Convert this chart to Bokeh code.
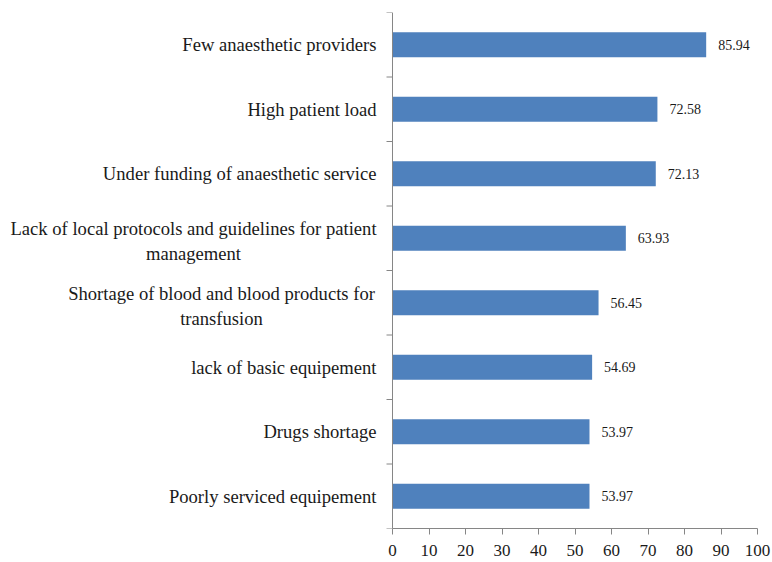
import math
from bokeh.plotting import figure
from bokeh.models import ColumnDataSource, Range1d, FixedTicker, LabelSet, Span
from bokeh.embed import file_html
from bokeh.resources import INLINE

categories = [
    "Few anaesthetic providers",
    "High patient load",
    "Under funding of anaesthetic service",
    "Lack of local protocols and guidelines for patient\nmanagement",
    "Shortage of blood and blood products for\ntransfusion",
    "lack of basic equipement",
    "Drugs shortage",
    "Poorly serviced equipement",
]
values = [85.94, 72.58, 72.13, 63.93, 56.45, 54.69, 53.97, 53.97]
x_ticks = [0, 10, 20, 30, 40, 50, 60, 70, 80, 90, 100]

FONT = "Liberation Serif"
TEXT = "#1a1a1a"
AXIS = "#868686"
BAR = "#4F81BD"

n = len(categories)
ys = [n - i - 0.5 for i in range(n)]

src = ColumnDataSource(dict(
    y=ys, value=values, vlabel=["%.2f" % v for v in values], zero=[0] * n,
))

# frame spans the whole width so the category texts (left of x=0) are visible
p = figure(width=772, height=562, x_range=Range1d(-107.4, 100), y_range=Range1d(0, n),
           output_backend="svg", toolbar_location=None,
           min_border_left=0, min_border_right=15, min_border_top=12, min_border_bottom=34)
p.outline_line_color = None
p.xgrid.visible = False
p.ygrid.visible = False
p.yaxis.visible = False

p.hbar(y="y", left="zero", right="value", height=0.39, fill_color=BAR, line_color=None, source=src)

# x axis
xa = p.xaxis[0]
xa.ticker = FixedTicker(ticks=x_ticks)
xa.bounds = (0, 100)
xa.axis_line_color = AXIS
xa.major_tick_line_color = AXIS
xa.major_tick_out = 6
xa.major_tick_in = 0
xa.minor_tick_line_color = None
xa.major_label_text_font = FONT
xa.major_label_text_font_size = "17px"
xa.major_label_text_color = TEXT
xa.major_label_standoff = 10

# y axis line at x = 0 with ticks at category boundaries
p.add_layout(Span(location=0, dimension="height", line_color=AXIS, line_width=1))
p.ray(x=[0] * (n + 1), y=list(range(n + 1)), length=6, length_units="screen",
      angle=math.pi, line_color=AXIS, line_width=1)

# value labels
p.add_layout(LabelSet(x="value", y="y", text="vlabel", source=src, x_offset=12,
                      text_baseline="middle", text_align="left",
                      text_font=FONT, text_font_size="14px", text_color=TEXT))

# category labels
single = [i for i, c in enumerate(categories) if "\n" not in c]
multi = [i for i, c in enumerate(categories) if "\n" in c]
s1 = ColumnDataSource(dict(y=[ys[i] for i in single], t=[categories[i] for i in single],
                           zero=[0] * len(single)))
p.text(x="zero", y="y", text="t", source=s1, x_offset=-16,
       text_baseline="middle", text_align="right",
       text_font=FONT, text_font_size="18.6px", text_color=TEXT)
multi_center_offsets = [-199, -171]
for i, off in zip(multi, multi_center_offsets):
    s2 = ColumnDataSource(dict(y=[ys[i]], t=[categories[i]], zero=[0]))
    p.text(x="zero", y="y", text="t", source=s2, x_offset=off, y_offset=3,
           text_baseline="middle", text_align="center",
           text_font=FONT, text_font_size="18.6px", text_color=TEXT,
           text_line_height=1.18)

open("out.html", "w").write(file_html(p, INLINE))
